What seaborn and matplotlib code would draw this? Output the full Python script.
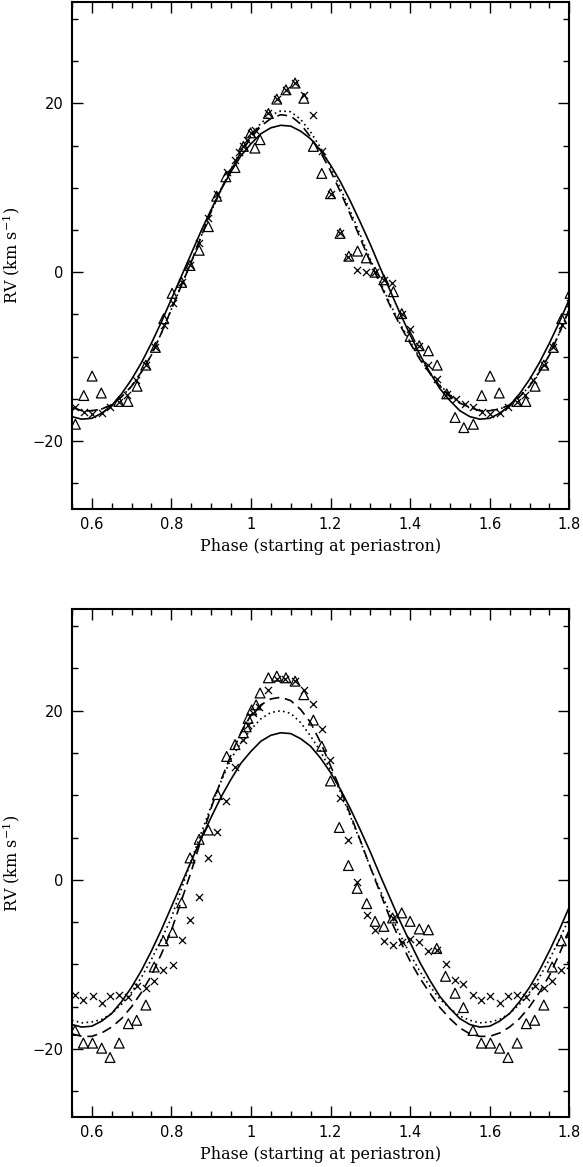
"""Radial velocity curves vs orbital phase, two panels."""
import matplotlib
matplotlib.use("Agg")
import matplotlib.pyplot as plt
from matplotlib.ticker import MultipleLocator, FuncFormatter
import seaborn as sns

sns.set_theme(style="ticks")
plt.rcParams["font.family"] = ["DejaVu Sans"]
plt.rcParams["mathtext.fontset"] = "dejavuserif"

phase_grid = [0.550, 0.575, 0.600, 0.625, 0.650, 0.675, 0.700, 0.725, 0.750, 0.775,
              0.800, 0.825, 0.850, 0.875, 0.900, 0.925, 0.950, 0.975, 1.000, 1.025,
              1.050, 1.075, 1.100, 1.125, 1.150, 1.175, 1.200, 1.225, 1.250, 1.275,
              1.300, 1.325, 1.350, 1.375, 1.400, 1.425, 1.450, 1.475, 1.500, 1.525,
              1.550, 1.575, 1.600, 1.625, 1.650, 1.675, 1.700, 1.725, 1.750, 1.775, 1.800]
solid = [-17.1, -17.4, -17.3, -16.7, -15.8, -14.4, -12.7, -10.7, -8.4, -5.9,
         -3.2, -0.5, 2.2, 4.9, 7.4, 9.8, 11.9, 13.8, 15.2, 16.4,
         17.1, 17.4, 17.3, 16.7, 15.8, 14.4, 12.7, 10.7, 8.4, 5.9,
         3.3, 0.5, -2.2, -4.9, -7.4, -9.8, -11.9, -13.8, -15.2, -16.4,
         -17.1, -17.4, -17.3, -16.7, -15.8, -14.4, -12.7, -10.7, -8.4, -5.9, -3.2]
top_dotted = [-16.0, -16.4, -16.4, -16.2, -15.7, -14.75, -13.5, -11.8, -9.8, -7.2,
              -4.4, -1.6, 1.2, 4.25, 7.2, 9.8, 12.2, 14.4, 16.2, 17.65,
              18.6, 19.1, 19.0, 18.1, 16.6, 14.75, 12.5, 9.95, 7.2, 4.4,
              1.5, -1.15, -3.8, -6.1, -8.2, -10.2, -11.9, -13.4, -14.5, -15.45,
              -16.0, -16.4, -16.4, -16.2, -15.7, -14.75, -13.5, -11.8, -9.8, -7.2, -4.4]
top_dashed = [-16.0, -16.4, -16.4, -16.2, -15.7, -14.75, -13.5, -11.8, -9.8, -7.2,
              -4.4, -1.6, 1.2, 4.25, 7.2, 9.8, 12.2, 14.2, 15.9, 17.3,
              18.2, 18.65, 18.5, 17.55, 16.0, 14.2, 12.0, 9.5, 6.8, 4.0,
              1.2, -1.4, -4.0, -6.3, -8.4, -10.35, -12.0, -13.5, -14.6, -15.5,
              -16.0, -16.4, -16.4, -16.2, -15.7, -14.75, -13.5, -11.8, -9.8, -7.2, -4.4]
bot_dotted = [-16.6, -16.9, -16.8, -16.5, -15.8, -14.7, -13.3, -11.5, -9.4, -7.05,
              -4.5, -1.1, 2.3, 5.55, 8.7, 11.65, 14.3, 16.25, 17.8, 19.05,
              19.8, 20.0, 19.7, 18.6, 17.0, 15.2, 13.0, 10.4, 7.5, 4.55,
              1.5, -1.25, -4.0, -6.5, -8.8, -10.85, -12.6, -14.1, -15.2, -16.1,
              -16.6, -16.9, -16.8, -16.5, -15.8, -14.7, -13.3, -11.5, -9.4, -7.05, -4.5]
bot_dashed = [-18.2, -18.5, -18.5, -18.1, -17.4, -16.4, -15.0, -13.3, -11.3, -8.75,
              -6.0, -2.5, 1.0, 4.8, 8.5, 11.8, 14.8, 17.4, 19.5, 20.7,
              21.4, 21.6, 21.2, 20.15, 18.6, 16.25, 13.5, 10.7, 7.7, 4.65,
              1.5, -1.55, -4.6, -7.2, -9.6, -11.65, -13.4, -15.1, -16.4, -17.5,
              -18.2, -18.5, -18.5, -18.1, -17.4, -16.4, -15.0, -13.3, -11.3, -8.75, -6.0]

# observations, top panel (phase 0.55-1.55; repeated at phase+1)
top_cross_ph = [0.559, 0.580, 0.601, 0.626, 0.647, 0.668, 0.689, 0.710, 0.736, 0.760, 0.781, 0.803,
                0.826, 0.847, 0.870, 0.893, 0.914, 0.939, 0.960, 0.970, 0.981, 0.990, 1.000, 1.010,
                1.044, 1.065, 1.088, 1.111, 1.133, 1.157, 1.178, 1.200, 1.224, 1.245, 1.267, 1.289,
                1.312, 1.334, 1.354, 1.379, 1.400, 1.423, 1.446, 1.468, 1.492, 1.515, 1.538]
top_cross_rv = [-16.0, -16.6, -16.8, -16.7, -15.9, -15.4, -14.5, -12.8, -11.0, -8.9, -6.2, -3.6,
                -1.2, 0.8, 3.5, 6.4, 9.3, 11.9, 13.3, 14.2, 14.9, 15.6, 16.5, 16.9,
                18.8, 20.5, 21.6, 22.4, 21.0, 18.6, 14.4, 9.3, 4.6, 1.8, 0.3, 0.0,
                0.0, -0.9, -1.3, -4.9, -6.7, -8.7, -11.0, -12.7, -14.4, -15.0, -15.6]
top_tri_ph = [0.559, 0.580, 0.601, 0.624, 0.668, 0.691, 0.714, 0.736, 0.760, 0.781, 0.802, 0.826,
              0.847, 0.870, 0.893, 0.914, 0.937, 0.960, 0.981, 0.999, 1.010, 1.023, 1.044, 1.065,
              1.088, 1.111, 1.133, 1.157, 1.178, 1.200, 1.224, 1.246, 1.268, 1.290, 1.312, 1.334,
              1.358, 1.379, 1.400, 1.423, 1.446, 1.468, 1.492, 1.513, 1.535]
top_tri_rv = [-18.0, -14.6, -12.3, -14.3, -15.3, -15.3, -13.5, -11.0, -8.9, -5.5, -2.5, -1.2,
              0.8, 2.6, 5.4, 9.0, 11.3, 12.4, 14.9, 16.5, 14.7, 15.7, 18.8, 20.5,
              21.6, 22.4, 20.6, 14.9, 11.7, 9.3, 4.6, 1.9, 2.5, 1.7, 0.0, -0.9,
              -2.3, -4.9, -7.6, -8.7, -9.3, -11.0, -14.4, -17.2, -18.4]

# observations, bottom panel
bot_cross_ph = [0.558, 0.579, 0.602, 0.625, 0.646, 0.669, 0.692, 0.713, 0.736, 0.757, 0.780, 0.803,
                0.826, 0.847, 0.870, 0.893, 0.914, 0.937, 0.960, 0.981, 0.993, 1.006, 1.021, 1.044,
                1.065, 1.086, 1.111, 1.133, 1.157, 1.178, 1.199, 1.224, 1.245, 1.267, 1.291, 1.312,
                1.334, 1.356, 1.358, 1.379, 1.400, 1.423, 1.446, 1.467, 1.489, 1.513, 1.534]
bot_cross_rv = [-13.6, -14.2, -13.7, -14.5, -13.7, -13.6, -13.8, -12.5, -12.8, -12.0, -10.7, -10.1,
                -7.1, -4.7, -2.0, 2.6, 5.7, 9.3, 13.4, 16.6, 18.3, 19.7, 20.5, 22.5,
                23.7, 23.7, 23.5, 22.5, 20.8, 17.8, 14.2, 9.7, 4.7, -0.3, -4.1, -5.9,
                -7.2, -4.5, -7.7, -7.3, -7.0, -7.3, -8.4, -8.3, -9.9, -11.8, -12.3]
bot_tri_ph = [0.558, 0.579, 0.602, 0.625, 0.646, 0.669, 0.692, 0.713, 0.736, 0.757, 0.780, 0.803,
              0.826, 0.847, 0.870, 0.893, 0.916, 0.939, 0.960, 0.981, 0.988, 0.993, 1.002, 1.013,
              1.023, 1.044, 1.065, 1.088, 1.111, 1.133, 1.157, 1.178, 1.200, 1.222, 1.245, 1.267,
              1.291, 1.312, 1.334, 1.356, 1.379, 1.400, 1.423, 1.446, 1.467, 1.489, 1.513, 1.534]
bot_tri_rv = [-17.8, -19.3, -19.3, -19.9, -21.0, -19.3, -17.0, -16.6, -14.8, -10.3, -7.2, -6.2,
              -2.7, 2.6, 4.8, 5.9, 10.1, 14.6, 16.0, 17.4, 18.1, 19.1, 20.1, 20.7,
              22.1, 23.9, 24.1, 23.9, 23.5, 21.9, 18.9, 15.8, 11.7, 6.2, 1.7, -1.0,
              -2.8, -4.9, -5.5, -4.5, -3.9, -4.9, -5.8, -5.9, -8.1, -11.4, -13.4, -15.1]

XMIN, XMAX = 0.55, 1.8


def _wrap(ph, rv):
    # phase-folded: show each point again one cycle later if it fits
    xs = list(ph) + [p + 1 for p in ph if p + 1 <= XMAX + 0.01]
    ys = list(rv) + [v for p, v in zip(ph, rv) if p + 1 <= XMAX + 0.01]
    return xs, ys


def _panel(ax, dotted, dashed, crosses, tris):
    sns.lineplot(x=phase_grid, y=solid, ax=ax, color="black", lw=1.2, ls="-")
    sns.lineplot(x=phase_grid, y=dotted, ax=ax, color="black", lw=1.2, ls=(0, (1, 2)))
    sns.lineplot(x=phase_grid, y=dashed, ax=ax, color="black", lw=1.2, ls=(0, (6, 3.5)))
    cx, cy = _wrap(*crosses)
    tx, ty = _wrap(*tris)
    sns.scatterplot(x=cx, y=cy, ax=ax, marker="x", color="black", s=26, linewidth=0.9, zorder=3)
    sns.scatterplot(x=tx, y=ty, ax=ax, marker="^", s=50, facecolors="none",
                    edgecolor="black", linewidth=0.9, zorder=3)
    ax.set_xlim(XMIN, XMAX)
    ax.set_ylim(-28, 32)
    ax.xaxis.set_major_locator(MultipleLocator(0.2))
    ax.xaxis.set_minor_locator(MultipleLocator(0.05))
    ax.yaxis.set_major_locator(MultipleLocator(20))
    ax.yaxis.set_minor_locator(MultipleLocator(5))
    fmt = FuncFormatter(lambda v, _: f"{v:g}".replace("-", "\u2212"))
    ax.xaxis.set_major_formatter(fmt)
    ax.yaxis.set_major_formatter(fmt)
    ax.tick_params(which="both", direction="in", top=True, right=True, color="black",
                   labelsize=10.5, labelcolor="black")
    ax.tick_params(which="major", length=8, width=1.0)
    ax.tick_params(which="minor", length=4.5, width=1.0)
    ax.tick_params(axis="x", pad=6)
    ax.tick_params(axis="y", pad=6)
    for sp in ax.spines.values():
        sp.set_linewidth(1.5)
        sp.set_color("black")
    ax.set_xlabel("Phase (starting at periastron)", family="DejaVu Serif", fontsize=11.5,
                  color="black", labelpad=4)
    ax.set_ylabel(r"RV (km s$^{-1}$)", family="DejaVu Serif", fontsize=11.5, color="black")
    ax.yaxis.set_label_coords(-0.10, 0.5)


fig = plt.figure(figsize=(5.83, 11.67), dpi=100)
ax_top = fig.add_axes([0.1232, 0.5641, 0.8533, 0.4342])
ax_bot = fig.add_axes([0.1232, 0.0431, 0.8533, 0.4348])
_panel(ax_top, top_dotted, top_dashed, (top_cross_ph, top_cross_rv), (top_tri_ph, top_tri_rv))
_panel(ax_bot, bot_dotted, bot_dashed, (bot_cross_ph, bot_cross_rv), (bot_tri_ph, bot_tri_rv))
fig.savefig("out.png", dpi=100)
plt.close(fig)
